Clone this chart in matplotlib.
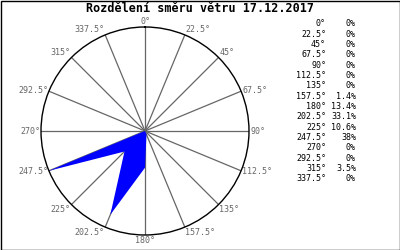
"""Wind direction rose for 17.12.2017 (radar-style polygon)."""

import matplotlib
matplotlib.use("Agg")
import matplotlib.pyplot as plt
import matplotlib.patches as mpatches
import numpy as np

# ── data ──────────────────────────────────────────────────────────────────────

DIRECTIONS = [0, 22.5, 45, 67.5, 90, 112.5, 135, 157.5,
              180, 202.5, 225, 247.5, 270, 292.5, 315, 337.5]
PERCENT = [0, 0, 0, 0, 0, 0, 0, 1.4,
           13.4, 33.1, 10.6, 38, 0, 0, 3.5, 0]
TITLE = "Rozdělení směru větru 17.12.2017"

FONT = "DejaVu Sans Mono"
GREY = "#666666"

# ── figure ────────────────────────────────────────────────────────────────────

fig = plt.figure(figsize=(4, 2.5), dpi=100)
fig.patch.set_facecolor("white")

# polar axes: centre ~ (145, 131) px, radius ~104 px
ax = fig.add_axes([41 / 400, 15 / 250, 208 / 400, 208 / 250], projection="polar")
ax.set_theta_zero_location("N")
ax.set_theta_direction(-1)

rmax = max(PERCENT)
theta = np.deg2rad(DIRECTIONS)
ax.fill(theta, PERCENT, color="#0000ff", linewidth=0, zorder=3)

ax.set_ylim(0, rmax)
ax.set_yticks([])
ax.set_xticks(theta)
ax.set_xticklabels([])
ax.grid(True, color=GREY, linewidth=0.9)
ax.spines["polar"].set_color("black")
ax.spines["polar"].set_linewidth(1.0)

# angle labels just outside the circle
for deg, th in zip(DIRECTIONS, theta):
    s, c = np.sin(th), np.cos(th)
    ha = "left" if s > 0.1 else ("right" if s < -0.1 else "center")
    va = "bottom" if c > 0.5 else ("top" if c < -0.5 else "center")
    ax.text(th, rmax * 1.01, f"{deg:g}°", ha=ha, va=va,
            fontsize=6, family=FONT, color=GREY)

fig.text(0.5, 1 - 9 / 250, TITLE, ha="center", va="center",
         fontsize=8.5, family=FONT, fontweight="bold")

# legend list at right
for i, (deg, pct) in enumerate(zip(DIRECTIONS, PERCENT)):
    y = 1 - (24 + i * 10.33) / 250
    fig.text(326 / 400, y, f"{deg:g}°", ha="right", va="center",
             fontsize=6, family=FONT)
    fig.text(356 / 400, y, f"{pct:g}%", ha="right", va="center",
             fontsize=6, family=FONT)

# outer border
fig.patches.append(mpatches.Rectangle(
    (0.5 / 400, 0.5 / 250), 399 / 400, 249 / 250, transform=fig.transFigure,
    fill=False, edgecolor="black", linewidth=1.0))

fig.savefig("out.png", dpi=100, facecolor="white")
